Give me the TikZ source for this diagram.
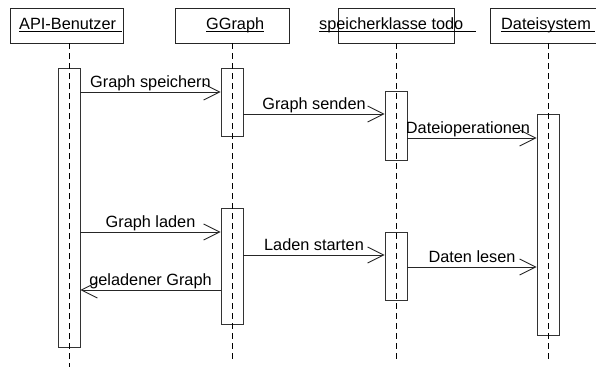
\documentclass[tikz,border=0pt]{standalone}
\usepackage{fontspec}
\setmainfont{Liberation Sans}
\usetikzlibrary{arrows.meta}
\begin{document}
\begin{tikzpicture}[x=1pt,y=-1pt,
  every node/.style={font=\fontsize{16.3pt}{18pt}\selectfont},
  headbox/.style={draw=black!85, line width=0.9pt, minimum height=35pt, inner sep=0pt},
  headtext/.style={anchor=base west, inner sep=0pt},
  act/.style={draw=black!80, line width=0.9pt, minimum width=22pt, inner sep=0pt},
  life/.style={draw=black, line width=0.9pt, dash pattern=on 6pt off 4pt},
  msg/.style={draw=black!85, line width=0.9pt, -{Straight Barb[length=16pt,width=16pt,line width=0.9pt]}},
  lbl/.style={anchor=base, inner sep=0pt, yshift=5pt},
  uline/.style={draw=black, line width=0.8pt}]
\useasboundingbox (0,0) rectangle (596,367);
\clip (0,0) rectangle (596,367);

% header boxes
\node[headbox, minimum width=113pt] (h1) at (67,25.5) {};
\node[headbox, minimum width=114pt] (h2) at (232,25.5) {};
\node[headbox, minimum width=116pt] (h3) at (396,25.5) {};
\node[headbox, minimum width=120pt] (h4) at (550,25.5) {};

% header titles
\node[headtext] (t1) at (19,29) {API-Benutzer};
\node[headtext] (t2) at (206,29) {GGraph};
\node[headtext] (t3) at (319,29) {speicherklasse todo};
\node[headtext] (t4) at (501,29) {Dateisystem};
\draw[uline] ([yshift=-2.5pt]t1.base west) -- ++(103,0);
\draw[uline] ([yshift=-2.5pt]t2.base west) -- ([yshift=-2.5pt]t2.base east);
\draw[uline] ([yshift=-2.5pt]t3.base west) -- ++(157,0);
\draw[uline] ([yshift=-2.5pt]t4.base west) -- ++(94,0);

% activation bars
\node[act, minimum height=279pt] (a1) at (69,207.5) {};
\node[act, minimum height=68pt]  (g1) at (232,102) {};
\node[act, minimum height=116pt] (g2) at (232,266) {};
\node[act, minimum height=69pt]  (s1) at (396,125.5) {};
\node[act, minimum height=68pt]  (s2) at (396,266) {};
\node[act, minimum height=221pt] (d1) at (548,224.5) {};

% lifeline ends
\coordinate (e1) at (69,367);
\coordinate (e2) at (232,360);
\coordinate (e3) at (396,360);
\coordinate (e4) at (548,360);

% lifelines
\draw[life] (a1 |- h1.south) -- (e1);
\draw[life] (g1 |- h2.south) -- (e2);
\draw[life] (s1 |- h3.south) -- (e3);
\draw[life] (d1 |- h4.south) -- (e4);

% messages
\draw[msg] (a1.east |- 0,92) -- node[lbl] {Graph speichern} (g1.west |- 0,92);
\draw[msg] (g1.east |- 0,114) -- node[lbl] {Graph senden} (s1.west |- 0,114);
\draw[msg] (s1.east |- 0,138) -- node[lbl, xshift=-4pt] {Dateioperationen} (d1.west |- 0,138);
\draw[msg] (a1.east |- 0,232) -- node[lbl] {Graph laden} (g2.west |- 0,232);
\draw[msg] (g2.east |- 0,255) -- node[lbl] {Laden starten} (s2.west |- 0,255);
\draw[msg] (s2.east |- 0,267) -- node[lbl] {Daten lesen} (d1.west |- 0,267);
\draw[msg] (g2.west |- 0,290) -- node[lbl] {geladener Graph} (a1.east |- 0,290);
\end{tikzpicture}
\end{document}
